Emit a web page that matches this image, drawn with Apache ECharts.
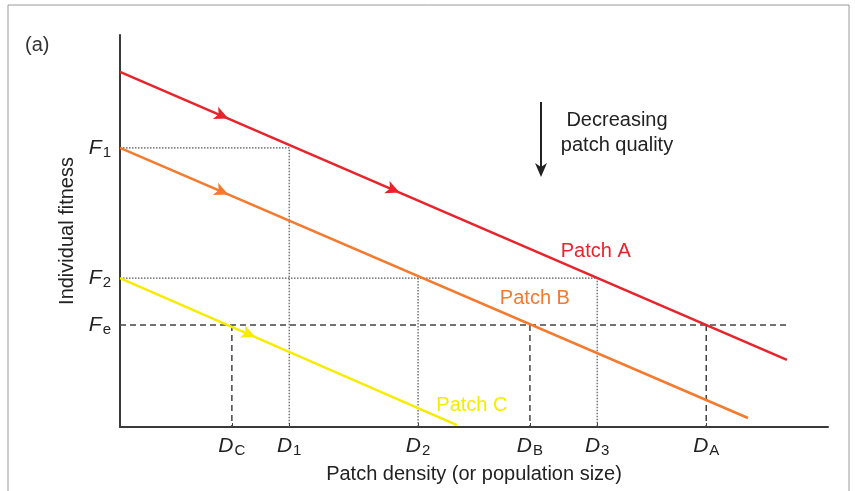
<!DOCTYPE html>
<html>
<head>
<meta charset="utf-8">
<script src="https://cdn.jsdelivr.net/npm/echarts@6/dist/echarts.min.js"></script>
<style>
  html, body { margin: 0; padding: 0; background: #fff; }
  #chart { width: 855px; height: 491px; }
</style>
</head>
<body>
<div id="chart"></div>
<script>
// axes run 0..100 on both sides
const dNames = ['C', '1', '2', 'B', '3', 'A'];
const dValues = [15.8, 23.9, 42.1, 57.9, 67.4, 82.8];
const fNames = ['e', '2', '1'];
const fValues = [26.0, 38.0, 71.2];

const patchA = [[0, 90.6], [94.2, 17.1]];
const patchB = [[0, 71.2], [88.7, 2.3]];
const patchC = [[0, 38.0], [47.6, 0.5]];

// arrow heads sitting on each line
const arrowsA = [[15.3, 78.7], [39.5, 59.8]];
const arrowsB = [[15.3, 59.3]];
const arrowsC = [[19.1, 23.0]];

const patchLabels = [
  { name: 'Patch A', at: [67.2, 44.9] },
  { name: 'Patch B', at: [58.6, 32.7] },
  { name: 'Patch C', at: [49.7, 5.4] },
];
const feEnd = 94.6;

const RED = '#e8232c', ORANGE = '#f47a2e', YELLOW = '#f7ec00';
const FONT = '"Liberation Sans", Arial, sans-serif';

function nearestIdx(arr, v) {
  let best = 0;
  arr.forEach((a, i) => { if (Math.abs(a - v) < Math.abs(arr[best] - v)) best = i; });
  return best;
}

function guide(data, type) {
  return {
    type: 'line', data, symbol: 'none', silent: true, z: 1,
    lineStyle: type === 'dash'
      ? { color: '#444', width: 1.5, type: [6, 4] }
      : { color: '#555', width: 1.2, type: [1.5, 1.5] },
  };
}

function patch(data, color, arrows, label) {
  return {
    type: 'line', data, symbol: 'none', z: 3,
    lineStyle: { color, width: 2.5 },
    markPoint: {
      silent: true,
      data: arrows.map((a) => ({
        coord: a, symbol: 'arrow', symbolSize: [10, 14], symbolRotate: -113.4,
        itemStyle: { color }, label: { show: false },
      })).concat([{
        coord: label.at, symbol: 'circle', symbolSize: 1,
        itemStyle: { color: 'transparent' },
        label: { show: true, position: 'inside', formatter: label.name, color, fontSize: 20, fontFamily: FONT },
      }]),
    },
  };
}

const D = dValues, F = fValues;
const series = [
  guide([[0, F[2]], [D[1], F[2]], [D[1], 0]], 'dot'),
  guide([[0, F[1]], [D[4], F[1]], [D[4], 0]], 'dot'),
  guide([[D[2], F[1]], [D[2], 0]], 'dot'),
  guide([[0, F[0]], [feEnd, F[0]]], 'dash'),
  guide([[D[0], F[0]], [D[0], 0]], 'dash'),
  guide([[D[3], F[0]], [D[3], 0]], 'dash'),
  guide([[D[5], F[0]], [D[5], 0]], 'dash'),
  patch(patchA, RED, arrowsA, patchLabels[0]),
  patch(patchB, ORANGE, arrowsB, patchLabels[1]),
  patch(patchC, YELLOW, arrowsC, patchLabels[2]),
];

const axisLine = { show: true, lineStyle: { color: '#3a3a3a', width: 2 } };
const subRich = {
  m: { fontStyle: 'italic', fontSize: 21, fontFamily: FONT, color: '#222', lineHeight: 24 },
  s: { fontSize: 15, fontFamily: FONT, color: '#222', padding: [10, 0, 0, 1], lineHeight: 24 },
};

const chart = echarts.init(document.getElementById('chart'), null, { renderer: 'canvas' });
chart.setOption({
  animation: false,
  backgroundColor: '#fff',
  textStyle: { fontFamily: FONT },
  grid: { left: 120, right: 27, top: 35, bottom: 64 },
  xAxis: {
    type: 'value', min: 0, max: 100,
    name: 'Patch density (or population size)', nameLocation: 'middle', nameGap: 37,
    nameTextStyle: { fontSize: 20, color: '#222', fontFamily: FONT },
    axisLine,
    splitLine: { show: false },
    axisTick: { show: true, inside: true, length: 4, customValues: dValues, lineStyle: { color: '#444' } },
    axisLabel: {
      customValues: dValues, margin: 7, rich: subRich,
      formatter: (v) => `{m|D}{s|${dNames[nearestIdx(dValues, v)]}}`,
    },
  },
  yAxis: {
    type: 'value', min: 0, max: 100,
    name: 'Individual fitness', nameLocation: 'middle', nameGap: 41,
    nameTextStyle: { fontSize: 20, color: '#222', fontFamily: FONT },
    axisLine,
    splitLine: { show: false },
    axisTick: { show: false },
    axisLabel: {
      customValues: fValues, margin: 9, rich: subRich,
      formatter: (v) => `{m|F}{s|${fNames[nearestIdx(fValues, v)]}}`,
    },
  },
  graphic: [
    // outer frame of the figure panel
    { type: 'polyline', shape: { points: [[8, 491], [8, 5], [849, 5], [849, 491]] },
      style: { stroke: '#999', lineWidth: 1, fill: null }, silent: true },
    { type: 'text', left: 25, top: 35, style: { text: '(a)', fill: '#333', font: `20px ${FONT}` } },
    { type: 'line', shape: { x1: 541, y1: 102, x2: 541, y2: 174 }, style: { stroke: '#222', lineWidth: 2 } },
    { type: 'polygon', shape: { points: [[535, 163], [541, 177], [547, 163], [541, 167]] }, style: { fill: '#222' } },
    { type: 'text', x: 617, y: 108, style: {
        text: 'Decreasing\npatch quality', textAlign: 'center', fill: '#222',
        font: `20px ${FONT}`, lineHeight: 25 } },
  ],
  series,
});
</script>
</body>
</html>
